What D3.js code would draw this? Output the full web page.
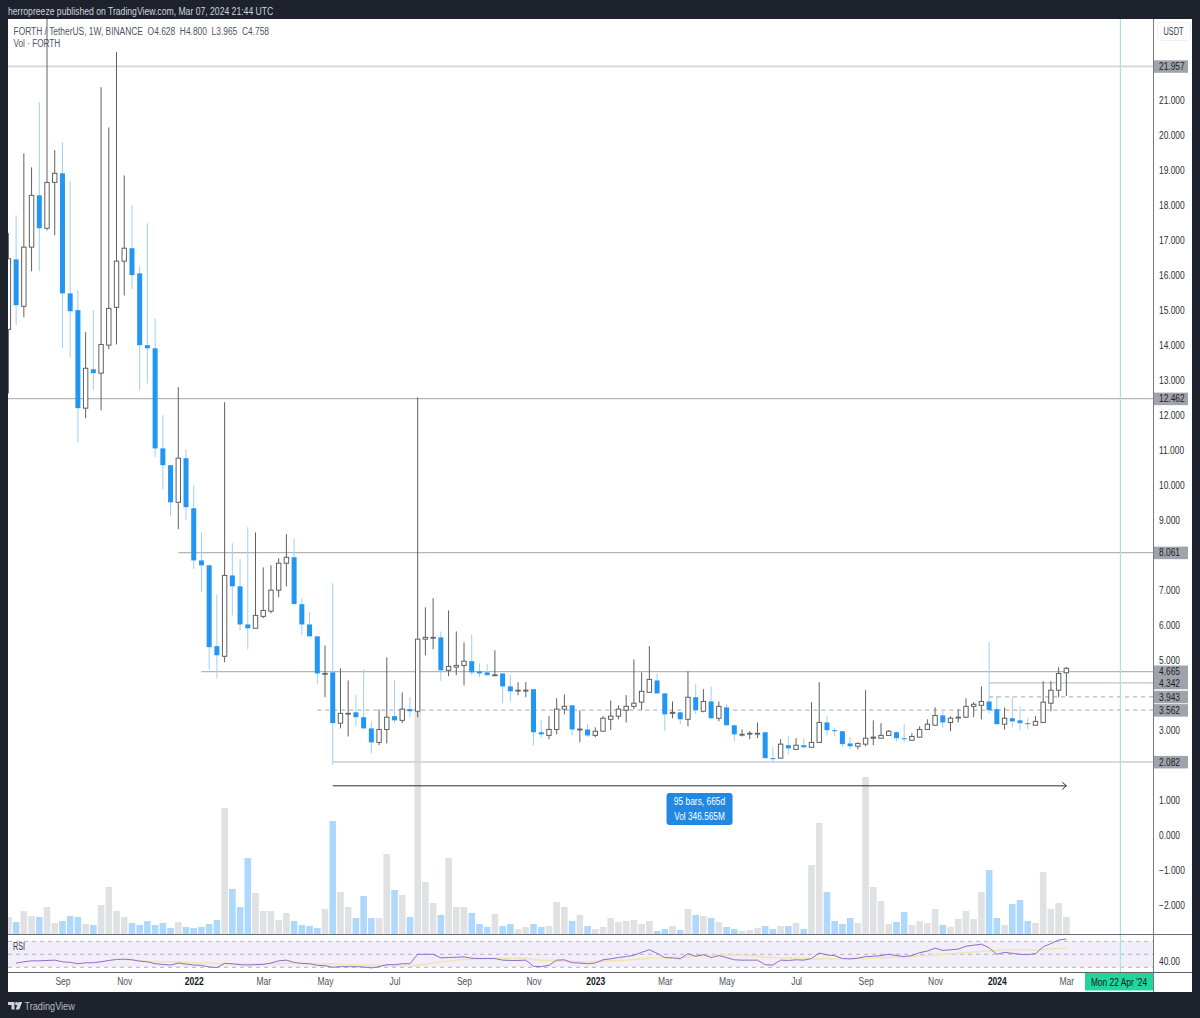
<!DOCTYPE html>
<html>
<head>
<meta charset="utf-8">
<script src="https://cdn.jsdelivr.net/npm/d3@7"></script>
<style>
  html, body { margin: 0; padding: 0; background: #1e222d; }
  svg { display: block; }
  text { font-family: "Liberation Sans", sans-serif; }
</style>
</head>
<body>
<div id="chart"></div>
<script>
// weekly FORTH/USDT candles, first bar is the week of 19 Jul 2021
const opens = [
  14.44,16.44,15.10,16.79,18.27,17.33,18.64,18.90,15.47,14.99,
  12.19,13.30,13.19,13.99,15.07,16.39,16.76,16.04,13.99,13.90,
  11.04,10.56,9.50,10.76,9.33,7.84,7.70,5.39,5.10,7.41,
  7.10,6.01,5.90,6.24,6.39,6.99,7.76,7.93,6.59,6.01,
  5.67,4.60,4.64,3.19,3.46,3.50,3.36,3.04,2.64,3.01,
  3.39,3.27,3.59,3.53,5.59,5.63,5.64,4.70,4.79,4.84,
  4.96,4.67,4.64,4.56,4.61,4.24,4.13,4.13,4.16,2.93,
  2.84,3.01,3.59,3.70,3.01,3.01,2.84,2.96,3.30,3.39,
  3.56,3.67,3.79,4.07,4.41,4.04,3.47,3.50,3.30,3.93,
  3.53,3.81,3.33,3.64,3.13,2.87,2.90,2.90,2.93,2.19,
  2.19,2.56,2.44,2.56,2.50,2.64,3.21,2.99,2.96,2.61,
  2.53,2.59,2.76,2.76,2.84,2.93,2.76,2.70,2.79,3.01,
  3.13,3.41,3.21,3.35,3.36,3.67,3.70,3.81,3.59,3.16,
  3.33,3.27,3.19,3.13,3.21,3.76,4.13,4.628
];
const highs = [
  17.19,17.70,19.47,19.07,20.93,23.41,19.56,19.79,18.67,15.56,
  14.36,14.99,21.36,20.21,22.36,18.84,17.99,16.24,17.47,14.76,
  11.99,10.56,12.79,11.01,9.99,8.64,7.70,6.87,12.36,8.33,
  7.87,8.79,8.64,7.64,7.70,7.90,8.59,8.47,6.76,6.36,
  5.67,5.41,7.19,4.76,4.41,3.99,4.73,3.24,3.59,5.07,
  4.41,4.07,3.93,12.50,6.50,6.76,5.81,6.41,5.81,5.50,
  5.73,4.90,4.87,5.27,4.61,4.56,4.36,4.36,4.16,3.27,
  3.39,3.90,4.01,3.70,3.56,3.16,3.07,3.39,3.84,3.70,
  3.99,5.01,4.64,5.39,4.61,4.04,3.81,3.50,4.67,4.30,
  4.16,4.24,3.81,3.73,3.13,3.01,2.96,3.21,2.93,2.50,
  2.73,2.81,2.76,2.76,3.79,4.36,3.41,3.07,2.96,2.79,
  2.64,4.13,3.27,3.19,2.99,2.96,3.16,2.90,3.10,3.30,
  3.64,3.56,3.39,3.59,3.90,3.79,4.24,5.50,3.96,3.64,
  3.93,3.67,3.33,3.39,4.39,4.39,4.79,4.80
];
const lows = [
  12.61,14.56,14.79,16.10,16.10,17.27,17.13,13.90,13.64,11.21,
  11.90,12.70,12.13,13.87,14.01,15.41,15.59,12.70,12.90,10.79,
  9.87,9.10,8.73,8.99,7.59,6.93,4.73,4.47,4.93,6.27,
  5.84,5.30,5.90,6.19,6.33,6.79,7.10,6.59,5.70,5.67,
  4.30,3.93,2.00,3.04,2.81,3.10,3.04,2.33,2.56,2.61,
  3.19,3.19,3.36,3.36,5.13,5.30,4.39,4.53,4.56,4.27,
  4.56,4.50,4.56,4.53,3.76,3.81,3.99,3.93,2.56,2.76,
  2.73,2.87,3.44,2.84,2.64,2.79,2.79,2.96,2.99,3.30,
  3.21,3.59,3.56,4.07,4.04,2.96,3.33,3.16,3.10,3.44,
  3.50,3.33,3.24,3.13,2.67,2.81,2.73,2.76,2.19,2.07,
  2.19,2.30,2.44,2.50,2.50,2.64,2.84,2.81,2.50,2.44,
  2.44,2.53,2.56,2.76,2.84,2.67,2.64,2.70,2.79,3.01,
  3.13,3.04,2.96,3.21,3.33,3.36,3.30,3.47,3.16,3.01,
  3.07,2.99,3.01,3.13,3.21,3.53,3.93,3.965
];
const closes = [
  16.46,15.13,16.79,18.27,17.33,18.64,18.90,15.47,14.96,12.19,
  13.33,13.19,14.01,15.04,16.39,16.76,15.99,13.99,13.90,11.04,
  10.56,9.50,10.76,9.36,7.84,7.70,5.36,5.13,7.41,7.10,
  6.01,5.90,6.27,6.41,6.99,7.76,7.93,6.59,6.01,5.67,
  4.61,4.61,3.19,3.47,3.47,3.36,3.04,2.64,3.01,3.36,
  3.27,3.59,3.53,5.59,5.64,5.64,4.70,4.81,4.84,4.96,
  4.64,4.61,4.56,4.57,4.24,4.10,4.13,4.13,2.93,2.87,
  3.01,3.59,3.67,3.01,3.02,2.84,2.96,3.33,3.39,3.59,
  3.67,3.76,4.10,4.44,4.04,3.44,3.50,3.30,3.93,3.56,
  3.81,3.33,3.67,3.13,2.87,2.87,2.90,2.90,2.19,2.16,
  2.59,2.47,2.56,2.50,2.64,3.21,2.99,2.96,2.59,2.53,
  2.61,2.76,2.79,2.84,2.96,2.76,2.73,2.81,3.01,3.16,
  3.41,3.21,3.33,3.36,3.67,3.73,3.81,3.56,3.16,3.33,
  3.24,3.19,3.16,3.24,3.79,4.13,4.61,4.758
];
// millions
const volumes = [
  3.4,2.4,4.6,3.6,3.4,5.4,2.2,2.6,3.6,3.4,
  2.0,1.8,5.8,9.4,4.6,3.4,2.2,1.8,2.6,1.8,
  2.2,1.2,2.4,1.4,1.2,1.4,2.0,2.8,25.2,9.0,
  5.4,15.2,8.2,4.6,4.6,2.8,4.2,2.6,1.8,1.6,
  1.2,5.0,22.6,8.4,5.4,3.2,7.6,3.2,3.2,16.0,
  8.8,7.8,3.4,44.4,10.4,6.2,3.8,15.2,5.4,5.4,
  4.2,2.0,1.4,4.0,1.6,2.0,1.0,1.4,2.0,1.4,
  1.6,6.4,5.4,2.6,3.8,1.6,1.0,1.4,3.2,2.4,
  2.6,2.8,2.0,2.6,0.6,1.0,1.6,0.8,5.0,3.8,
  3.6,3.2,2.4,1.4,1.0,0.6,0.8,1.2,1.6,1.0,
  1.6,1.6,2.2,1.0,13.8,22.2,8.4,2.6,2.0,3.2,
  2.2,31.4,9.4,6.6,2.0,2.4,4.4,1.8,2.6,2.2,
  5.0,1.8,1.4,3.0,4.6,3.0,8.4,12.8,3.2,1.8,
  6.0,6.8,2.6,2.2,12.4,5.0,6.2,3.4
];
// first value sits on bar 1
const rsiValues = [
  36.5,38.5,40,40,40.5,41,38.5,37.5,35.5,
  37,37,38.5,40.5,42,42.5,41.5,39.5,38.5,35.5,
  34.5,33.5,36.5,35,33.5,33,30.5,29.5,36,35.5,
  34,33.5,34,34.5,36.5,40,41,37.5,36,35.5,
  33,32.5,30,31,31,31,30.5,29,31,34,
  34,35.5,35.5,50,50,50,44.5,45,45.5,46,
  44,43.5,43.5,43.5,41,40.5,40.5,41,31.5,31,
  33,41,41.5,37,36.5,35.5,36.5,41.5,43,45,
  46.5,48.5,53,57,51.5,45,44.5,43,51,47,
  49.5,45,48,45,41.5,41,41,41,34,33.5,
  41,40.5,41.5,41,43.5,52,49,48,43.5,43,
  44,46.5,47,48,50,48,46.5,48,52.5,55,
  59.5,56,57,58,62.5,64,65.5,60,50,53,
  51.5,50,49.5,51,61.5,66.5,72,73.5
];
// first value sits on bar 15
const rsiMa = [
  42,41.5,40,39,39,
  38.5,38.5,38,37.5,37,36.5,36.5,36,35.5,35,
  35,35,35,35,35.5,36,36.5,36.5,36,36,
  35.5,35.5,35,34.5,34,33.5,33.5,33,33,33,
  33,32,32,33.5,35,36.5,38,39.5,41,42,
  42.5,43,43.5,43.5,43.5,43.5,44,43.5,42,41,
  41,40,39.5,39,38.5,38.5,39,39.5,40,40.5,
  41,42,43,44,44.5,44.5,45,45,46,47,
  48,48,49,49,48.5,48.5,48,47,46,45,
  44.5,44,43.5,43.5,43,43,43,43,43,43,
  43.5,43.5,44.5,44.5,45.5,45.5,46,46.5,47.5,48,
  49,50,50.5,51.5,52.5,53.5,54.5,55.5,56,57,
  57,57,57,57,57.5,58,59,59.5
];

const priceTicks = [21,20,19,18,17,16,15,14,13,12,11,10,9,7,6,5,3,1,0,-1,-2];
const timeTicks = ["2021-09-06","2021-11-01","2022-01-03","2022-03-07","2022-05-02","2022-07-04","2022-09-05","2022-11-07",
  "2023-01-02","2023-03-06","2023-05-01","2023-07-03","2023-09-04","2023-11-06","2024-01-01","2024-03-04"].map(d => new Date(d));
const levelPrices = [21.957, 12.462, 8.061, 4.665, 4.342, 3.943, 3.562, 2.082];
const levelStarts = [0, 0, 22, 25, 127, 127, 40, 42];   // bar the level is drawn from
const levelKinds = ["thick", "thin", "thin", "thin", "thick", "dash", "dash", "thick"];

const width = 1200, height = 1018;
const paneLeft = 8, paneRight = 1153, outerRight = 1192, paneTop = 19, volBottom = 934, rsiBottom = 972, paneBottom = 992;
const MS_WEEK = 7 * 24 * 3600 * 1000;
const FONT = '"Liberation Sans", sans-serif';
const firstBar = Date.UTC(2021, 6, 19);
const barDate = i => new Date(firstBar + i * MS_WEEK);
const markerDate = new Date("2024-04-22");

const x = d3.scaleUtc().domain([barDate(0), markerDate]).range([8.4, 1120.4]);
const y = d3.scaleLinear().domain([-2, 21]).range([904.8, 99.8]);
const yVol = d3.scaleLinear().domain([0, 46]).range([volBottom, volBottom - 230]);
const yRsi = d3.scaleLinear().domain([30, 70]).range([967.3, 941.3]);

// the original face runs narrower than anything installed, so squeeze horizontally
function squeeze(sel, k) {
  sel.each(function () {
    d3.select(this)
      .attr("textLength", this.getComputedTextLength() * k)
      .attr("lengthAdjust", "spacingAndGlyphs");
  });
  return sel;
}

const bars = d3.range(opens.length).map(i => ({
  i, date: barDate(i), o: opens[i], h: highs[i], l: lows[i], c: closes[i], v: volumes[i], up: closes[i] >= opens[i]
}));

const svg = d3.select("#chart").append("svg").attr("width", width).attr("height", height);
svg.append("rect").attr("width", width).attr("height", height).attr("fill", "#1e222d");
svg.append("rect").attr("x", paneLeft).attr("y", paneTop).attr("width", outerRight - paneLeft).attr("height", paneBottom - paneTop).attr("fill", "#fff");

const defs = svg.append("defs");
defs.append("clipPath").attr("id", "mainClip").append("rect")
  .attr("x", paneLeft).attr("y", paneTop).attr("width", paneRight - paneLeft).attr("height", volBottom - paneTop);
defs.append("clipPath").attr("id", "rsiClip").append("rect")
  .attr("x", paneLeft).attr("y", volBottom).attr("width", paneRight - paneLeft).attr("height", rsiBottom - volBottom);

// volume goes under everything
const main = svg.append("g").attr("clip-path", "url(#mainClip)");
main.append("g").selectAll("rect").data(bars).join("rect")
  .attr("x", d => x(d.date) - 3.3)
  .attr("width", 6.6)
  .attr("y", d => yVol(d.v))
  .attr("height", d => volBottom - yVol(d.v))
  .attr("fill", d => d.up ? "#e0e1e3" : "#aed9fd");

// horizontal levels
levelPrices.forEach((p, k) => {
  const kind = levelKinds[k];
  main.append("line")
    .attr("x1", k < 2 ? paneLeft : x(barDate(levelStarts[k]))).attr("x2", paneRight)
    .attr("y1", y(p)).attr("y2", y(p))
    .attr("stroke", kind == "thick" ? "#d3d5da" : "#b4b6bc")
    .attr("stroke-width", kind == "thick" ? 1.8 : 1.2)
    .attr("stroke-dasharray", kind == "dash" ? "4 4" : null);
});

// candles
const candles = main.append("g");
candles.selectAll("line").data(bars).join("line")
  .attr("x1", d => x(d.date)).attr("x2", d => x(d.date))
  .attr("y1", d => y(d.h)).attr("y2", d => y(d.l))
  .attr("stroke", d => d.up ? "#5f6062" : "#9fcff8")
  .attr("stroke-width", 1);
candles.selectAll("rect").data(bars).join("rect")
  .attr("x", d => x(d.date) - (d.up ? 2.2 : 2.5))
  .attr("width", d => d.up ? 4.4 : 5)
  .attr("y", d => y(Math.max(d.o, d.c)))
  .attr("height", d => Math.max(y(Math.min(d.o, d.c)) - y(Math.max(d.o, d.c)), 0.8))
  .attr("fill", d => d.up ? "#fff" : "#2196f3")
  .attr("stroke", d => d.up ? "#5f6062" : "none")
  .attr("stroke-width", 1);

// date range tool
const rangeY = y(1.4);
main.append("line").attr("x1", x(barDate(42))).attr("x2", x(barDate(137)))
  .attr("y1", rangeY).attr("y2", rangeY).attr("stroke", "#2a2e39").attr("stroke-width", 1);
main.append("path")
  .attr("d", d3.line()([[x(barDate(137)) - 4, rangeY - 3.5], [x(barDate(137)), rangeY], [x(barDate(137)) - 4, rangeY + 3.5]]))
  .attr("fill", "none").attr("stroke", "#2a2e39").attr("stroke-width", 1);
const rangeMid = x(barDate(89.5));
svg.append("rect").attr("x", rangeMid - 33).attr("y", 793).attr("width", 66).attr("height", 32).attr("rx", 3).attr("fill", "#2288e2");
svg.append("text").attr("x", rangeMid).attr("y", 804.8).attr("text-anchor", "middle").attr("font-size", 10).attr("fill", "#fff").text("95 bars, 665d").call(squeeze, 0.84);
svg.append("text").attr("x", rangeMid).attr("y", 819.8).attr("text-anchor", "middle").attr("font-size", 10).attr("fill", "#fff").text("Vol 346.565M").call(squeeze, 0.83);

// RSI pane
const rsiPane = svg.append("g").attr("clip-path", "url(#rsiClip)");
rsiPane.append("rect").attr("x", paneLeft).attr("width", paneRight - paneLeft)
  .attr("y", yRsi(70)).attr("height", yRsi(30) - yRsi(70)).attr("fill", "#f1edf9");
[70, 50, 30].forEach(v => {
  rsiPane.append("line").attr("x1", paneLeft).attr("x2", paneRight).attr("y1", yRsi(v)).attr("y2", yRsi(v))
    .attr("stroke", "#b4b6bc").attr("stroke-width", 1).attr("stroke-dasharray", "4 4");
});
const rsiPath = (values, startBar) => d3.line()
  .x((d, i) => x(barDate(i + startBar)))
  .y(d => yRsi(d))(values);
rsiPane.append("path").attr("d", rsiPath(rsiMa, 15)).attr("fill", "none").attr("stroke", "#f2e5ae").attr("stroke-width", 1.5);
rsiPane.append("path").attr("d", rsiPath(rsiValues, 1)).attr("fill", "none").attr("stroke", "#8e6fc6").attr("stroke-width", 1);
svg.append("text").attr("x", 13).attr("y", 950).attr("font-size", 10).attr("fill", "#363a45").text("RSI").call(squeeze, 0.72);

// marker line and pane borders
svg.append("line").attr("x1", x(markerDate)).attr("x2", x(markerDate)).attr("y1", paneTop).attr("y2", rsiBottom)
  .attr("stroke", "#a4e8d4").attr("stroke-width", 1.2);
[volBottom + 0.5, rsiBottom + 0.5].forEach(py => {
  svg.append("line").attr("x1", paneLeft).attr("x2", outerRight).attr("y1", py).attr("y2", py)
    .attr("stroke", py < 950 ? "#6a6d78" : "#5c5f6a").attr("stroke-width", 1);
});
svg.append("line").attr("x1", paneRight + 0.5).attr("x2", paneRight + 0.5).attr("y1", paneTop).attr("y2", paneBottom)
  .attr("stroke", "#787b86").attr("stroke-width", 1);

// price axis
svg.append("g").attr("transform", `translate(${paneRight},0.2)`)
  .call(d3.axisRight(y).tickValues(priceTicks).tickSize(0).tickPadding(6).tickFormat(d3.format(".3f")))
  .call(g => g.select(".domain").remove())
  .call(g => g.selectAll("text").attr("font-size", 10).attr("fill", "#2a2e39").attr("font-family", FONT).call(squeeze, 0.84));

levelPrices.forEach(p => {
  svg.append("rect").attr("x", paneRight + 1).attr("y", y(p) - 6).attr("width", 34).attr("height", 12.5).attr("fill", "#a0a3ab");
  svg.append("text").attr("x", paneRight + 6).attr("y", y(p) + 3.8).attr("font-size", 10).attr("fill", "#1c1f28").text(d3.format(".3f")(p)).call(squeeze, 0.84);
});

svg.append("rect").attr("x", 1157.5).attr("y", 22.5).attr("width", 33).attr("height", 18).attr("rx", 3)
  .attr("fill", "#fff").attr("stroke", "#f0f1f3");
svg.append("text").attr("x", 1173.5).attr("y", 35.2).attr("text-anchor", "middle").attr("font-size", 10).attr("fill", "#363a45").text("USDT").call(squeeze, 0.74);

// rsi axis
svg.append("g").attr("transform", `translate(${paneRight},0)`)
  .call(d3.axisRight(yRsi).tickValues([40]).tickSize(0).tickPadding(6).tickFormat(d3.format(".2f")))
  .call(g => g.select(".domain").remove())
  .call(g => g.selectAll("text").attr("font-size", 10).attr("fill", "#2a2e39").attr("font-family", FONT).call(squeeze, 0.84));

// time axis
svg.append("g").attr("transform", `translate(0,${rsiBottom})`)
  .call(d3.axisBottom(x).tickValues(timeTicks).tickSize(0).tickPadding(6)
    .tickFormat(d => d.getUTCMonth() == 0 ? d3.utcFormat("%Y")(d) : d3.utcFormat("%b")(d)))
  .call(g => g.select(".domain").remove())
  .call(g => g.selectAll("text").attr("font-size", 10).attr("fill", "#50535e").attr("font-family", FONT))
  .call(g => g.selectAll("text").filter(d => d.getUTCMonth() == 0).attr("font-weight", "bold").attr("fill", "#131722"))
  .call(g => g.selectAll("text").call(squeeze, 0.85));

svg.append("rect").attr("x", 1085).attr("y", rsiBottom + 1).attr("width", paneRight - 1085).attr("height", 17.5).attr("fill", "#22d69b");
svg.append("text").attr("x", (1085 + paneRight) / 2).attr("y", rsiBottom + 13.5).attr("text-anchor", "middle")
  .attr("font-size", 10).attr("fill", "#131722").text("Mon 22 Apr '24").call(squeeze, 0.84);

// header, legend, footer
svg.append("text").attr("x", 8).attr("y", 14.5).attr("font-size", 10).attr("fill", "#d1d4dc")
  .text("herropreeze published on TradingView.com, Mar 07, 2024 21:44 UTC").call(squeeze, 0.862);
svg.append("text").attr("x", 13.5).attr("y", 34.5).attr("font-size", 10).attr("fill", "#50535e").attr("xml:space", "preserve")
  .text("FORTH / TetherUS, 1W, BINANCE  O4.628  H4.800  L3.965  C4.758").call(squeeze, 0.84);
svg.append("text").attr("x", 13.5).attr("y", 46.5).attr("font-size", 10).attr("fill", "#50535e").text("Vol · FORTH").call(squeeze, 0.82);

const logo = svg.append("g").attr("fill", "#d1d4dc");
logo.append("path").attr("d", "M8 1002h6.5v7.5h-3v-4.6H8z");
logo.append("circle").attr("cx", 16.6).attr("cy", 1003.6).attr("r", 1.6);
logo.append("path").attr("d", "M18.6 1002h3.6l-3 7.5h-3.6z");
svg.append("text").attr("x", 24.5).attr("y", 1009.5).attr("font-size", 10.5).attr("fill", "#b9bcc4").text("TradingView").call(squeeze, 0.87);
</script>
</body>
</html>
